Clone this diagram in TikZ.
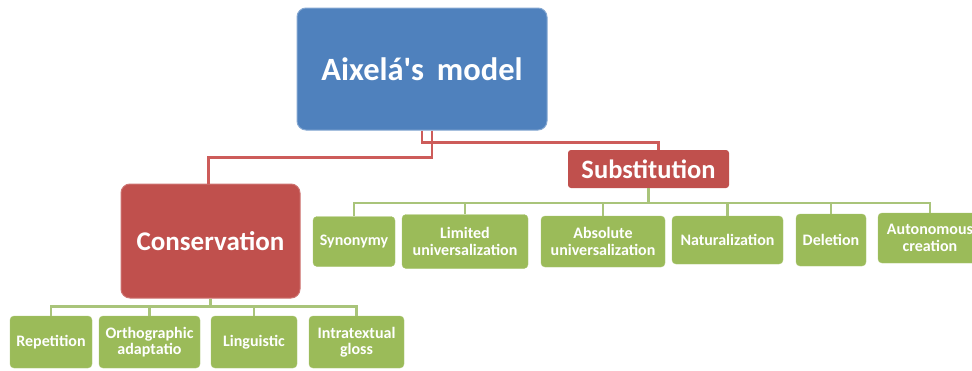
\documentclass[tikz,border=0pt]{standalone}
\usepackage{fontspec}
\setmainfont{Carlito}
\definecolor{mblue}{HTML}{4F81BD}
\definecolor{mred}{HTML}{C0504D}
\definecolor{mgreen}{HTML}{9BBB59}
\definecolor{lred}{HTML}{CD5C5A}
\definecolor{lgreen}{HTML}{A9C47A}
\begin{document}
\begin{tikzpicture}[x=1pt,y=-1pt,
  base/.style={align=center,text=white,font=\bfseries,inner sep=1pt},
  topbox/.style={base,fill=mblue,draw=mblue!70!white,line width=1pt,rounded corners=9pt,minimum width=250pt,minimum height=122pt,font=\bfseries\fontsize{32.5}{36}\selectfont},
  redbig/.style={base,fill=mred,draw=mred!80!white,line width=1pt,rounded corners=9pt,minimum width=179pt,minimum height=114pt,font=\bfseries\fontsize{27}{30}\selectfont},
  redsmall/.style={base,fill=mred,rounded corners=3pt,minimum width=161pt,minimum height=38pt,font=\bfseries\fontsize{26.5}{29}\selectfont},
  leaf/.style={base,fill=mgreen,draw=mgreen!85!white,rounded corners=4pt,minimum height=50pt,font=\bfseries\fontsize{16}{16.5}\selectfont},
  redline/.style={draw=lred,line width=2.6pt},
  greenline/.style={draw=lgreen,line width=2.4pt}]
\useasboundingbox (0,0) rectangle (972,370);
\clip (0,0) rectangle (972,370);

\node[topbox] (model) at (422,69) {Aixelá\textquotesingle s\, model};
\node[redsmall] (subst) at (648.5,169) {Substitution};
\node[redbig] (cons) at (210.5,241) {Conservation};

\node[leaf,minimum width=82pt] (syn) at (354,241.5) {Synonymy};
\node[leaf,minimum width=126pt,minimum height=54pt] (lim) at (465,241.5) {Limited\\universalization};
\node[leaf,minimum width=124pt,minimum height=51pt] (abs) at (603,241.5) {Absolute\\universalization};
\node[leaf,minimum width=111pt,minimum height=48pt] (nat) at (727.5,240) {Naturalization};
\node[leaf,minimum width=70pt,minimum height=52pt] (del) at (831,240) {Deletion};
\node[leaf,minimum width=104pt,minimum height=50pt] (aut) at (930,238) {Autonomous\\creation};

\node[leaf,minimum width=82pt,minimum height=52pt] (rep) at (51,342) {Repetition};
\node[leaf,minimum width=101pt,minimum height=52pt] (ort) at (149.5,342) {Orthographic\\adaptatio};
\node[leaf,minimum width=86pt,minimum height=52pt] (lin) at (254,342) {Linguistic};
\node[leaf,minimum width=95pt,minimum height=52pt] (int) at (356.5,342) {Intratextual\\gloss};

% red connectors
\draw[redline] ([xshift=10pt]model.south) -- ++(0,27) -| ([xshift=-2pt]cons.north);
\draw[redline] (model.south) -- ++(0,12) -| ([xshift=10pt]subst.north);

% green connectors (substitution)
\foreach \c in {syn,lim,abs,nat,del,aut}
  \draw[greenline] (subst.south) -- ++(0,15) -| (\c.north);
% green connectors (conservation)
\foreach \c in {rep,ort,lin,int}
  \draw[greenline] (cons.south) -- ++(0,8) -| (\c.north);
\end{tikzpicture}
\end{document}
